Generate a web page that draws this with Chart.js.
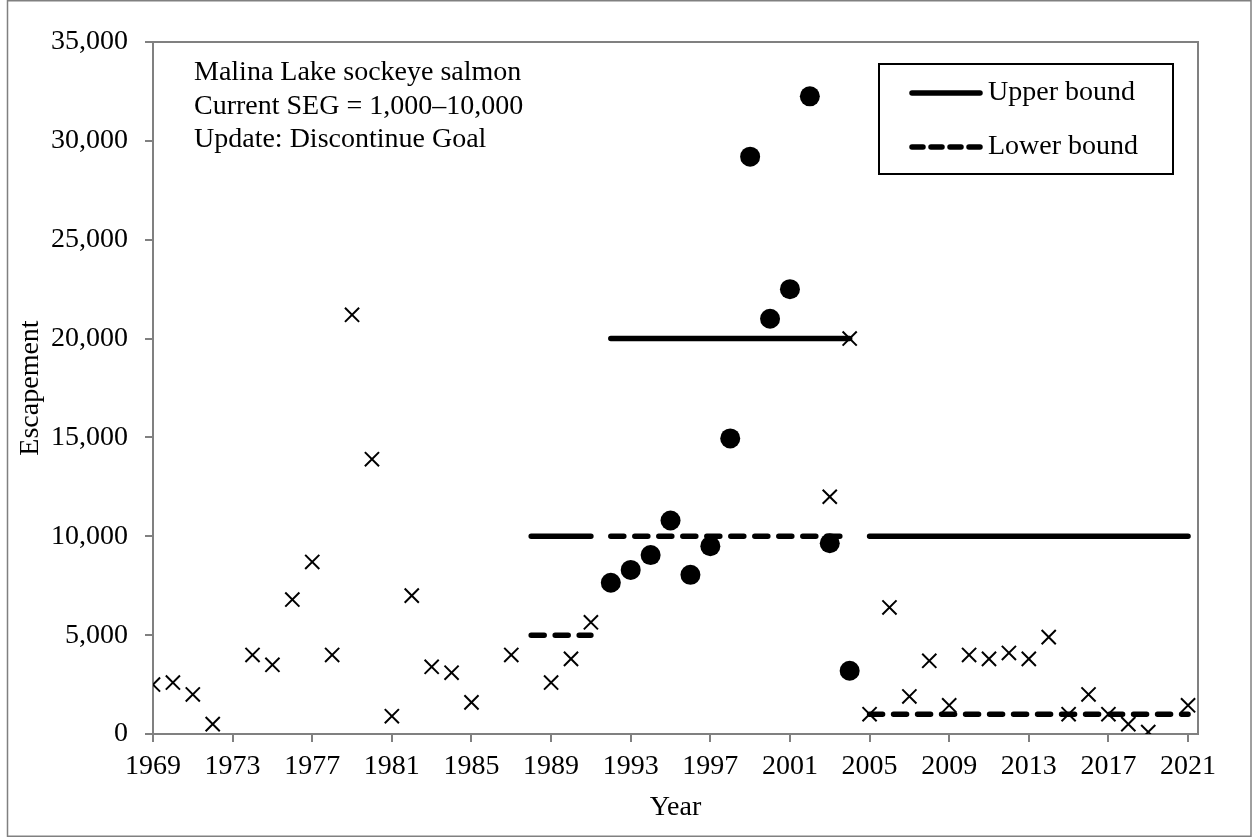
<!DOCTYPE html>
<html>
<head>
<meta charset="utf-8">
<script src="https://cdn.jsdelivr.net/npm/chart.js@4"></script>
<style>
html, body { margin: 0; padding: 0; background: #fff; }
</style>
</head>
<body>
<canvas id="GraficaEscapement" width="1252" height="837"></canvas>
<script>
// escapement marked with x
const crossYears = [1969, 1970, 1971, 1972, 1974, 1975, 1976, 1977, 1978, 1979, 1980, 1981, 1982, 1983, 1984, 1985, 1987,
    1989, 1990, 1991, 2003, 2004, 2005, 2006, 2007, 2008, 2009, 2010, 2011, 2012, 2013, 2014, 2015, 2016, 2017, 2018, 2019, 2021];
const crossValues = [2500, 2600, 2000, 500, 4000, 3500, 6800, 8700, 4000, 21200, 13900, 900, 7000, 3400, 3100, 1600, 4000,
    2600, 3800, 5650, 12000, 20000, 1000, 6400, 1900, 3700, 1450, 4000, 3800, 4100, 3800, 4900, 1000, 2000, 1000, 500, 100, 1450];

// escapement marked with filled circles
const circleYears = [1992, 1993, 1994, 1995, 1996, 1997, 1998, 1999, 2000, 2001, 2002, 2003, 2004];
const circleValues = [7650, 8300, 9050, 10800, 8050, 9500, 14950, 29200, 21000, 22500, 32250, 9650, 3200];

// goal bounds, one entry per goal period
const goalStart = [1988, 1992, 2005];
const goalEnd = [1991, 2004, 2021];
const upperBound = [10000, 20000, 10000];
const lowerBound = [5000, 10000, 1000];

const xTickYears = [1969, 1973, 1977, 1981, 1985, 1989, 1993, 1997, 2001, 2005, 2009, 2013, 2017, 2021];
const notaLineas = ['Malina Lake sockeye salmon', 'Current SEG = 1,000\u201310,000', 'Update: Discontinue Goal'];

const fuente = 'Liberation Serif, Times New Roman, serif';

function puntos(xs, ys) {
    const out = [];
    for (var i in xs) out.push({ x: xs[i], y: ys[i] });
    return out;
}

function tramos(valores) {
    const out = [];
    for (var i = 0; i < goalStart.length; i++) {
        out.push({ x: goalStart[i], y: valores[i] });
        out.push({ x: goalEnd[i], y: valores[i] });
        if (i < goalStart.length - 1) out.push({ x: (goalEnd[i] + goalStart[i + 1]) / 2, y: null });
    }
    return out;
}

// frame, plot box, note text and legend box
const decoracion = {
    id: 'decoracion',
    beforeDraw(chart) {
        const ctx = chart.ctx;
        ctx.save();
        ctx.fillStyle = '#fff';
        ctx.fillRect(0, 0, chart.width, chart.height);
        ctx.strokeStyle = '#808080';
        ctx.lineWidth = 1.5;
        ctx.strokeRect(7.5, 0.75, chart.width - 8.5, chart.height - 1.5);
        ctx.restore();
    },
    afterDraw(chart) {
        const ctx = chart.ctx;
        const a = chart.chartArea;
        ctx.save();
        ctx.strokeStyle = '#808080';
        ctx.lineWidth = 2;
        ctx.beginPath();
        ctx.moveTo(a.left, a.top);
        ctx.lineTo(a.right, a.top);
        ctx.lineTo(a.right, a.bottom);
        ctx.stroke();

        ctx.fillStyle = '#000';
        ctx.font = '28px ' + fuente;
        ctx.textBaseline = 'middle';
        ctx.textAlign = 'left';
        for (var i = 0; i < notaLineas.length; i++) {
            ctx.fillText(notaLineas[i], 194, 73 + i * 33.5);
        }

        // legend
        ctx.strokeStyle = '#000';
        ctx.lineWidth = 2;
        ctx.strokeRect(879, 64, 294, 110);
        const items = chart.data.datasets.filter(d => d.enLeyenda);
        items.forEach((d, k) => {
            const y = 93 + k * 54;
            ctx.save();
            ctx.strokeStyle = d.borderColor;
            ctx.lineWidth = d.borderWidth;
            ctx.lineCap = 'round';
            ctx.setLineDash(d.leyendaDash || []);
            ctx.beginPath();
            ctx.moveTo(912, y);
            ctx.lineTo(980, y);
            ctx.stroke();
            ctx.restore();
            ctx.fillText(d.label, 988, y);
        });
        ctx.restore();
    }
};

new Chart(document.getElementById('GraficaEscapement'), {
    type: 'scatter',
    data: {
        datasets: [
            {
                label: 'Escapement (circles)',
                data: puntos(circleYears, circleValues),
                pointStyle: 'circle',
                pointRadius: 10,
                pointHoverRadius: 10,
                backgroundColor: '#000',
                borderColor: '#000',
                borderWidth: 0,
            },
            {
                label: 'Escapement',
                data: puntos(crossYears, crossValues),
                pointStyle: 'crossRot',
                pointRadius: 10,
                pointHoverRadius: 10,
                borderColor: '#000',
                borderWidth: 2,
            },
            {
                type: 'line',
                label: 'Upper bound',
                enLeyenda: true,
                data: tramos(upperBound),
                borderColor: '#000',
                borderWidth: 5.5,
                borderCapStyle: 'round',
                pointRadius: 0,
                spanGaps: false,
                fill: false,
            },
            {
                type: 'line',
                label: 'Lower bound',
                enLeyenda: true,
                leyendaDash: [11, 8],
                data: tramos(lowerBound),
                borderColor: '#000',
                borderWidth: 5.5,
                borderCapStyle: 'round',
                borderDash: [13, 11],
                pointRadius: 0,
                spanGaps: false,
                fill: false,
            },
        ]
    },
    options: {
        responsive: false,
        animation: false,
        layout: { padding: { top: 42, right: 54, left: 0, bottom: 0 } },
        plugins: {
            legend: { display: false },
            tooltip: { enabled: false },
        },
        scales: {
            x: {
                type: 'linear',
                min: 1969,
                max: 2021.5,
                afterBuildTicks: s => { s.ticks = xTickYears.map(v => ({ value: v })); },
                afterFit: s => { s.height = 103; },
                ticks: {
                    autoSkip: false,
                    maxRotation: 0,
                    padding: 8,
                    color: '#000',
                    font: { family: fuente, size: 28 },
                    callback: v => String(v),
                },
                grid: { drawOnChartArea: false, drawTicks: true, tickLength: 8, color: '#808080', lineWidth: 2 },
                border: { display: true, color: '#808080', width: 2 },
                title: {
                    display: true,
                    text: 'Year',
                    color: '#000',
                    font: { family: fuente, size: 28 },
                    padding: { top: 0, bottom: 13 },
                },
            },
            y: {
                min: 0,
                max: 35000,
                afterFit: s => { s.width = 153; },
                ticks: {
                    stepSize: 5000,
                    padding: 17,
                    color: '#000',
                    font: { family: fuente, size: 28 },
                    callback: v => v.toLocaleString('en-US'),
                },
                grid: { drawOnChartArea: false, drawTicks: true, tickLength: 8, color: '#808080', lineWidth: 2 },
                border: { display: true, color: '#808080', width: 2 },
                title: {
                    display: true,
                    text: 'Escapement',
                    color: '#000',
                    font: { family: fuente, size: 28 },
                    padding: { top: 14, bottom: 0 },
                },
            },
        },
    },
    plugins: [decoracion],
});
</script>
</body>
</html>
